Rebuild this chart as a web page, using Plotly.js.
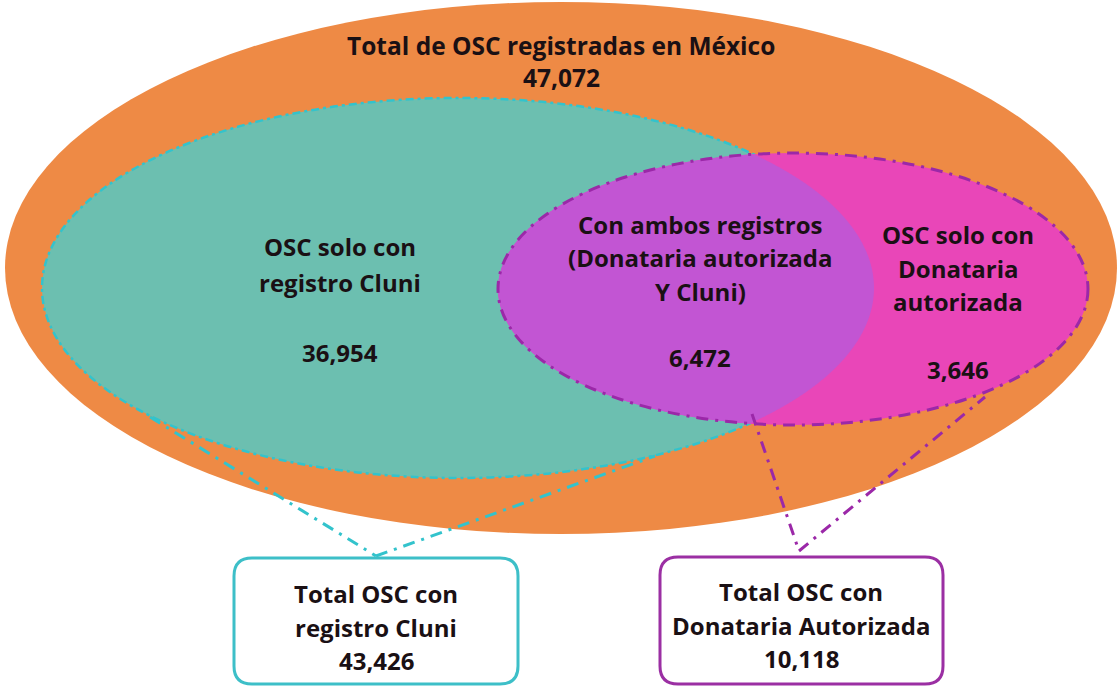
<!DOCTYPE html>
<html>
<head>
<meta charset="utf-8">
<script src="https://cdn.plot.ly/plotly-3.0.1.min.js"></script>
<style>html,body{margin:0;padding:0;background:#fff;}#chart{width:1118px;height:687px;}</style>
</head>
<body>
<div id="chart"></div>
<script>
// ---- Data ----
const regionNames = ["Total de OSC registradas en México", "OSC solo con registro Cluni", "Con ambos registros (Donataria autorizada Y Cluni)", "OSC solo con Donataria autorizada", "Total OSC con registro Cluni", "Total OSC con Donataria Autorizada"];
const regionLines = [
  ["Total de OSC registradas en México"],
  ["OSC solo con", "registro Cluni"],
  ["Con ambos registros", "(Donataria autorizada", "Y Cluni)"],
  ["OSC solo con", "Donataria", "autorizada"],
  ["Total OSC con", "registro Cluni"],
  ["Total OSC con", "Donataria Autorizada"]
];
const regionValues = [47072, 36954, 6472, 3646, 43426, 10118];

// ---- Geometry (layout only) ----
const W = 1118, H = 687;
const orange = {cx: 561, cy: 268, rx: 556, ry: 266};
const teal = {cx: 458, cy: 288, rx: 416, ry: 190};
const pink = {cx: 793, cy: 289, rx: 295, ry: 136};

const C_ORANGE = "#EE8A45", C_TEAL = "#6CBFB0", C_PINK = "#E946B8", C_MIX = "#C255D3";
const C_TEAL_LINE = "#33C3CC", C_PURP_LINE = "#9B28A8";
const DASH_LONG = "12px,7px,3px,7px";
const DASH_SHORT = "8px,4px,3px,4px";

function ell(e, fill, line) {
  return {type: "circle", xref: "x", yref: "y", x0: e.cx - e.rx, x1: e.cx + e.rx, y0: e.cy - e.ry, y1: e.cy + e.ry,
    fillcolor: fill || "rgba(0,0,0,0)", line: line || {width: 0}, layer: "above"};
}
function inside(e, x, y) {
  const dx = (x - e.cx) / e.rx, dy = (y - e.cy) / e.ry;
  return dx * dx + dy * dy <= 1;
}
function lensPath() {
  const pts = [];
  const N = 720;
  for (let i = 0; i <= N; i++) {
    const t = Math.PI / 2 + Math.PI * i / N;
    const x = pink.cx + pink.rx * Math.cos(t), y = pink.cy + pink.ry * Math.sin(t);
    if (inside(teal, x, y)) pts.push([x, y]);
  }
  for (let i = 0; i <= N; i++) {
    const t = -Math.PI / 2 + Math.PI * i / N;
    const x = teal.cx + teal.rx * Math.cos(t), y = teal.cy + teal.ry * Math.sin(t);
    if (inside(pink, x, y)) pts.push([x, y]);
  }
  return "M" + pts.map(p => p[0].toFixed(1) + "," + p[1].toFixed(1)).join(" L") + " Z";
}
function roundRect(x0, y0, x1, y1, r) {
  return `M${x0 + r},${y0} L${x1 - r},${y0} Q${x1},${y0} ${x1},${y0 + r} L${x1},${y1 - r} Q${x1},${y1} ${x1 - r},${y1} L${x0 + r},${y1} Q${x0},${y1} ${x0},${y1 - r} L${x0},${y0 + r} Q${x0},${y0} ${x0 + r},${y0} Z`;
}
function seg(x0, y0, x1, y1, color) {
  return {type: "line", xref: "x", yref: "y", x0, y0, x1, y1, line: {color, width: 3, dash: DASH_LONG}, layer: "above"};
}

const shapes = [
  ell(orange, C_ORANGE),
  ell(teal, C_TEAL, {color: C_TEAL_LINE, width: 2.5, dash: DASH_SHORT}),
  ell(pink, C_PINK),
  {type: "path", xref: "x", yref: "y", path: lensPath(), fillcolor: C_MIX, line: {width: 0}, layer: "above"},
  ell(pink, null, {color: C_PURP_LINE, width: 3, dash: DASH_LONG}),
  // connectors
  seg(150, 417, 376, 556, C_TEAL_LINE),
  seg(376, 556, 655, 456, C_TEAL_LINE),
  seg(752, 414, 799, 551, C_PURP_LINE),
  seg(799, 551, 985, 397, C_PURP_LINE),
  // boxes
  {type: "path", xref: "x", yref: "y", path: roundRect(234, 558, 518, 684, 18), fillcolor: "#ffffff", line: {color: "#3DBFC8", width: 3}, layer: "above"},
  {type: "path", xref: "x", yref: "y", path: roundRect(660, 557, 943, 684, 18), fillcolor: "#ffffff", line: {color: "#9B2FA3", width: 3}, layer: "above"}
];

const fmt = v => v.toLocaleString("en-US");
const FONT = {family: "'Open Sans', Lato, sans-serif", size: 24, color: "#1a1014"};
const TITLE_FONT = Object.assign({}, FONT, {size: 24.5});
const anns = [];
function put(lines, value, x, ys, vy, font) {
  const f = font || FONT;
  lines.forEach((t, i) => anns.push({x, y: ys[i], xref: "x", yref: "y", text: "<b>" + t + "</b>", showarrow: false, font: f, xanchor: "center", yanchor: "middle"}));
  anns.push({x, y: vy, xref: "x", yref: "y", text: "<b>" + fmt(value) + "</b>", showarrow: false, font: f, xanchor: "center", yanchor: "middle"});
}
put(regionLines[0], regionValues[0], 561, [45], 77, TITLE_FONT);
put(regionLines[1], regionValues[1], 340, [246, 282], 352);
put(regionLines[2], regionValues[2], 700, [224, 257, 291], 357);
put(regionLines[3], regionValues[3], 958, [234, 268, 301], 369);
put(regionLines[4], regionValues[4], 376, [593, 627], 660);
put(regionLines[5], regionValues[5], 801, [591, 625], 658);

const layout = {
  width: W, height: H,
  margin: {l: 0, r: 0, t: 0, b: 0},
  paper_bgcolor: "#ffffff", plot_bgcolor: "#ffffff",
  xaxis: {range: [0, W], visible: false, fixedrange: true},
  yaxis: {range: [H, 0], visible: false, fixedrange: true},
  showlegend: false,
  shapes, annotations: anns
};
Plotly.newPlot("chart", [{x: [0], y: [0], mode: "markers", marker: {opacity: 0}, hoverinfo: "skip", name: regionNames[0]}], layout, {displayModeBar: false, staticPlot: true});
</script>
</body>
</html>
